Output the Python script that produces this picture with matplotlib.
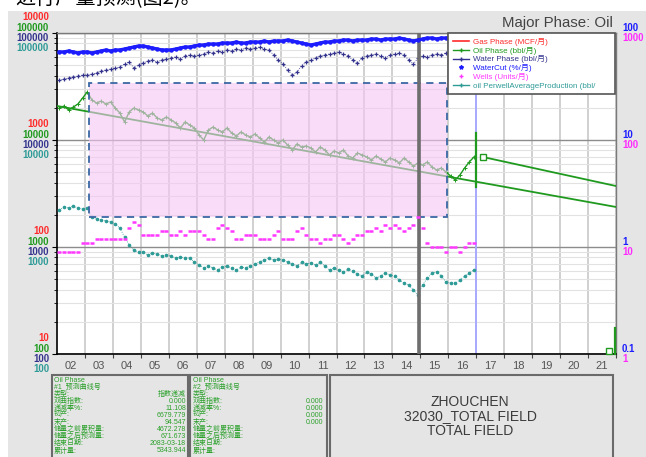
import numpy as np
import matplotlib
matplotlib.use('Agg')
import matplotlib.pyplot as plt
from matplotlib.patches import Rectangle
from matplotlib.lines import Line2D
from matplotlib.ticker import LogLocator, NullFormatter, FixedLocator

plt.rcParams['font.family'] = ['Liberation Sans', 'Noto Sans CJK SC']

W, H = 646, 457

# ---- production history, two samples per month pair (Jan 2002 .. Dec 2016) ----
oil = [
    19910, 20780, 19070, 20340, 21700, 24700,
    28100, 23650, 22170, 23140, 21700, 22650,
    19910, 17880, 14730, 18270, 19910, 19070,
    18270, 16760, 17880, 16060, 15380, 16410,
    15380, 14420, 12950, 14730, 13810, 12950,
    11140, 10000, 12400, 13230, 12400, 11880,
    12950, 11630, 10900, 11880, 11140, 10670,
    11380, 10440, 9580, 10670, 10000, 9380,
    10000, 8980, 8060, 9180, 8600, 8790,
    8420, 7720, 8600, 8060, 7240, 7890,
    7560, 8060, 7090, 6790, 7560, 7240,
    6935, 6500, 7090, 6645, 6230, 6790,
    6500, 6095, 6790, 6230, 5715, 6095,
    5840, 6230, 5590, 5240, 5475, 5020,
    4610, 4230, 4710, 5475, 6230, 6935,
]
water = [
    36400, 37200, 38000, 38800, 39600, 40500,
    40500, 41400, 42300, 44100, 45100, 46100,
    47100, 48100, 51300, 53600, 47100, 50200,
    52400, 54700, 55900, 53600, 55900, 57100,
    58400, 59700, 57100, 60950, 62300, 60950,
    62300, 63600, 66500, 65000, 67900, 66500,
    69400, 67900, 70900, 69400, 72400, 70900,
    72400, 74000, 70900, 69400, 62300, 55900,
    51300, 45100, 40500, 43200, 49200, 53600,
    55900, 58400, 60950, 62300, 63600, 65000,
    66500, 63600, 60950, 55900, 52400, 58400,
    60950, 62300, 63600, 60950, 58400, 62300,
    63600, 65000, 62300, 55900, 51300, 58400,
    60950, 59700, 62300, 63600, 62300, 65000,
    63600, 66500, 67900, 69400, 70900, 72400,
]
watercut = [
    66.5, 66.5, 67.9, 66.5, 65.0, 66.5,
    66.5, 65.0, 66.5, 67.9, 69.4, 67.9,
    69.4, 69.4, 70.9, 72.4, 74.0, 75.6,
    75.6, 74.0, 72.4, 70.9, 69.4, 69.4,
    69.4, 70.9, 72.4, 74.0, 74.0, 75.6,
    77.2, 77.2, 78.9, 78.9, 78.9, 80.6,
    80.6, 80.6, 82.4, 80.6, 80.6, 82.4,
    82.4, 82.4, 84.2, 82.4, 84.2, 84.2,
    84.2, 86.0, 84.2, 82.4, 80.6, 78.9,
    77.2, 78.9, 80.6, 82.4, 82.4, 84.2,
    84.2, 86.0, 86.0, 84.2, 86.0, 86.0,
    86.0, 87.9, 87.9, 86.0, 87.9, 87.9,
    87.9, 89.8, 87.9, 86.0, 84.2, 86.0,
    87.9, 89.8, 89.8, 87.9, 89.8, 89.8,
    89.8, 91.8, 89.8, 91.8, 91.8, 91.8,
]
wells = [
    9, 9, 9, 9, 9, 11,
    11, 11, 12, 12, 12, 12,
    12, 12, 12, 15, 17, 16,
    13, 13, 13, 13, 14, 14,
    13, 13, 14, 13, 14, 14,
    14, 13, 12, 12, 15, 16,
    15, 14, 12, 12, 13, 13,
    13, 12, 12, 12, 13, 14,
    12, 12, 12, 14, 15, 13,
    12, 12, 11, 12, 12, 13,
    13, 12, 11, 12, 13, 13,
    14, 14, 15, 14, 16, 15,
    16, 15, 14, 15, 16, 19,
    15, 11, 10, 10, 10, 9,
    10, 10, 9, 10, 11, 11,
]
perwell = [
    2217, 2365, 2314, 2416, 2314, 2265,
    2314, 1907, 1827, 1788, 1750, 1713,
    1641, 1505, 1240, 1044, 938, 898,
    898, 842, 879, 860, 824, 842,
    824, 789, 806, 789, 789, 724,
    679, 636, 665, 636, 610, 650,
    665, 636, 610, 650, 636, 665,
    694, 724, 756, 789, 756, 772,
    756, 724, 694, 665, 724, 694,
    709, 679, 724, 665, 610, 636,
    610, 584, 623, 597, 559, 536,
    584, 559, 513, 536, 571, 547,
    536, 492, 461, 441, 396, 356,
    441, 513, 571, 584, 536, 471,
    461, 461, 492, 536, 571, 610,
]
t = 2002 + (np.arange(len(oil)) + 0.5) / 6

# decline fit and forecast segments
trend_x = [2002.0, 2022.0]
trend_y = [20800, 2366]
fcst_x = [2017.24, 2022.0]
fcst_y = [6935, 3715]
start_x = 2017.0
start_span = [11620, 3640]
end_x = 2021.95
end_span = [175, 100]
end_marker = (2021.75, 106)

# fitting window (years, oil rate)
fit_x = [2003.15, 2015.95]
fit_y = [1905, 34100]

cutoff_year = 2014.95

years = list(range(2002, 2022))
year_labels = [f'{y % 100:02d}' for y in years]

GREEN = '#1f9a1f'
RED = '#ff2a2a'
NAVY = '#34348f'
BLUE = '#1c1cff'
MAGENTA = '#ff38ff'
TEAL = '#2f9b97'


def fx(px):
    return px / W


def fy(py):
    return 1 - py / H


fig = plt.figure(figsize=(W / 100, H / 100), dpi=100, facecolor='white')
fig.patches.append(Rectangle((fx(8), 0), 1, fy(11), transform=fig.transFigure,
                             facecolor='#e5e5e5', edgecolor='none', zorder=-10))
fig.text(fx(15), fy(9), '进行产量预测(图2)。', fontsize=14.5, color='black',
         family=['Noto Sans CJK SC'], va='bottom', ha='left')

ax = fig.add_axes([fx(57), fy(354), (616 - 57) / W, (354 - 33) / H])
ax.set_facecolor('white')
ax.set_xlim(2002, 2022)
ax.set_yscale('log')
ax.set_ylim(100, 1e5)

# grid: year boundaries and log decades
ax.set_xticks(years[1:] + [2022])
ax.set_xticklabels([])
ax.set_xticks([y + 0.5 for y in years], minor=True)
ax.set_xticklabels(year_labels, minor=True, fontsize=8, color='#555555')
ax.tick_params(axis='x', which='major', length=3, color='#444444')
ax.tick_params(axis='x', which='minor', length=0, pad=5)
ax.yaxis.set_major_locator(FixedLocator([100, 1000, 1e4, 1e5]))
ax.yaxis.set_minor_locator(LogLocator(base=10, subs=range(2, 10)))
ax.yaxis.set_minor_formatter(NullFormatter())
ax.tick_params(axis='y', which='both', left=False, labelleft=False)
ax.xaxis.grid(True, which='major', color='#cdcdcd', lw=1.3)
ax.yaxis.grid(True, which='major', color='#8c8c8c', lw=1.0)
ax.yaxis.grid(True, which='minor', color='#e2e2e2', lw=0.8)
ax.set_axisbelow(True)
for side in ('left', 'bottom'):
    ax.spines[side].set_color('black')
    ax.spines[side].set_linewidth(1.2)
for side in ('top', 'right'):
    ax.spines[side].set_color('#7a7a7a')
    ax.spines[side].set_linewidth(1.0)

# water, per-well and oil on the left (bbl) scale
ax.plot(t, water, color=NAVY, lw=0.6, ls=':', marker='+', ms=2.5, mew=0.9, zorder=3)
ax.plot(t, perwell, color=TEAL, lw=0.6, ls=':', marker='o', ms=1.6, zorder=3)
ax.plot(t, oil, color=GREEN, lw=1.0, marker='+', ms=2.6, mew=0.7, zorder=3)
ax.plot(trend_x, trend_y, color=GREEN, lw=1.3, zorder=3)
ax.plot(fcst_x, fcst_y, color=GREEN, lw=1.3, zorder=3)
ax.plot([start_x, start_x], start_span, color=GREEN, lw=1.6, zorder=3)
ax.plot([end_x, end_x], end_span, color=GREEN, lw=1.6, zorder=3, clip_on=False)
ax.plot([fcst_x[0]], [fcst_y[0]], marker='s', ms=4.5, mfc='white', mec=GREEN, mew=1.0, zorder=7)
ax.plot([end_marker[0]], [end_marker[1]], marker='s', ms=4.5, mfc='white', mec=GREEN,
        mew=1.0, zorder=7, clip_on=False)

# fitting window overlay
ax.add_patch(Rectangle((fit_x[0], fit_y[0]), fit_x[1] - fit_x[0], fit_y[1] - fit_y[0],
                       facecolor='#f6c6f4', alpha=0.6, edgecolor='none', zorder=4))
ax.add_patch(Rectangle((fit_x[0], fit_y[0]), fit_x[1] - fit_x[0], fit_y[1] - fit_y[0],
                       facecolor='none', edgecolor='#3b68a4', lw=1.3,
                       ls=(0, (4, 3)), zorder=5))

ax.axvline(cutoff_year, color='#6e6e6e', lw=2.6, zorder=6)
ax.axvline(start_x, color='#a8a8ff', lw=1.4, zorder=2)

# watercut (%) and wells on their own right-hand scales
ax_wc = ax.twinx()
ax_wc.set_yscale('log')
ax_wc.set_ylim(0.1, 100)
ax_wc.axis('off')
ax_wc.plot(t, watercut, color=BLUE, lw=2.4, marker='o', ms=2.2)

ax_wl = ax.twinx()
ax_wl.set_yscale('log')
ax_wl.set_ylim(1, 1000)
ax_wl.axis('off')
ax_wl.plot(t, wells, ls='none', marker='_', ms=3.5, mew=1.8, color=MAGENTA)

# stacked axis labels
left_sets = [(RED, 10, -16), (GREEN, 100, -5), (NAVY, 100, 5), (TEAL, 100, 15)]
right_sets = [(BLUE, 0.1, -5), ('#ff2aff', 1, 5)]
ax_h = 321.0
for d in range(4):
    for color, base, off in left_sets:
        val = base * 10 ** d
        ax.text(-8 / 559, d / 3 - off / ax_h, f'{val:g}', transform=ax.transAxes,
                ha='right', va='center', fontsize=6.9, fontweight='bold', color=color)
    for color, base, off in right_sets:
        val = base * 10 ** d
        ax.text(1 + 6 / 559, d / 3 - off / ax_h, f'{val:g}', transform=ax.transAxes,
                ha='left', va='center', fontsize=6.9, fontweight='bold', color=color)

fig.text(fx(613), fy(23), 'Major Phase: Oil', ha='right', va='center',
         fontsize=10.8, color='#444444')

# legend
handles = [
    Line2D([], [], color=RED, lw=1.2),
    Line2D([], [], color=GREEN, lw=1.0, marker='+', ms=3),
    Line2D([], [], color=NAVY, lw=1.0, marker='+', ms=3),
    Line2D([], [], color=BLUE, ls='none', marker='*', ms=3),
    Line2D([], [], color=MAGENTA, ls='none', marker='+', ms=3),
    Line2D([], [], color=TEAL, lw=1.0, marker='+', ms=3),
]
labels = ['Gas Phase (MCF/月)', 'Oil Phase (bbl/月)', 'Water Phase (bbl/月)',
          'WaterCut (%/月)', 'Wells (Units/月)', 'oil PerwellAverageProduction (bbl/']
text_colors = [RED, GREEN, NAVY, BLUE, MAGENTA, TEAL]
leg = ax_wl.legend(handles, labels, loc='upper left',
                   bbox_to_anchor=((448 - 57) / 559, 1.0, 167 / 559, 0.0), mode='expand',
                   fontsize=5.8, frameon=True, fancybox=False, framealpha=1,
                   edgecolor='#555555', handlelength=2.0, handletextpad=0.5,
                   labelspacing=0.1, borderpad=0.6, borderaxespad=0)
leg.get_frame().set_linewidth(1.2)
for txt, c in zip(leg.get_texts(), text_colors):
    txt.set_color(c)
leg.set_zorder(20)

# summary panels under the chart
def panel(x0, x1):
    fig.patches.append(Rectangle((fx(x0), fy(462)), (x1 - x0) / W, (462 - 375) / H,
                                 transform=fig.transFigure, facecolor='none',
                                 edgecolor='#6a6a6a', lw=1.5))


panel(52, 188)
panel(190, 327)
panel(330, 613)

rows = ['Oil Phase', '类型:', '双曲指数:', '递减率%:', '初产:', '末产:',
        '储量之前累积量:', '储量之后预测量:', '结束日期:', '累计量:']
curve1 = ['', '指数递减', '0.000', '11.108', '6679.779', '94.547',
          '4672.278', '671.673', '2083-03-18', '5343.944']
curve2 = ['', '', '0.000', '0.000', '0.000', '0.000', '', '', '', '']
PANEL_GREEN = '#2aa02a'
for x0, x1, tag, vals in [(54, 186, '#1  预测曲线号', curve1), (193, 323, '#2  预测曲线号', curve2)]:
    lines = [rows[0], tag] + rows[1:]
    values = ['', ''] + vals[1:]
    for i, (lab, val) in enumerate(zip(lines, values)):
        yy = 380 + 7.1 * i
        fig.text(fx(x0), fy(yy), lab, ha='left', va='center', fontsize=5.0, color=PANEL_GREEN)
        if val:
            fig.text(fx(x1), fy(yy), val, ha='right', va='center', fontsize=5.0,
                     color=PANEL_GREEN)

for yy, s in [(402, 'ZHOUCHEN'), (416.5, '32030_TOTAL FIELD'), (431, 'TOTAL FIELD')]:
    fig.text(fx(470), fy(yy), s, ha='center', va='center', fontsize=10, color='#3c3c3c')

fig.savefig('out.png', dpi=100, facecolor=fig.get_facecolor())
